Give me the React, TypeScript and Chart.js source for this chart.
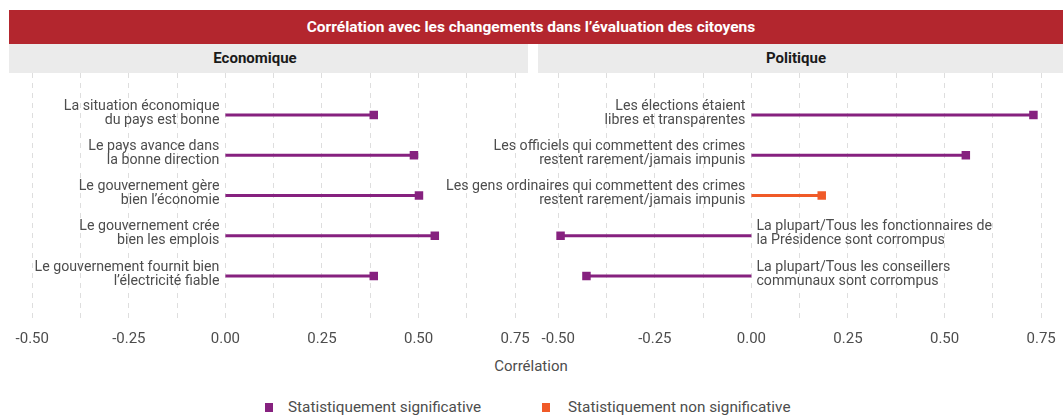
import React, { useEffect, useRef } from "react";
import { Chart, registerables } from "chart.js";

Chart.register(...registerables);

const econLabels: string[][] = [
  ["La situation économique", "du pays est bonne"],
  ["Le pays avance dans", "la bonne direction"],
  ["Le gouvernement gère", "bien l’économie"],
  ["Le gouvernement crée", "bien les emplois"],
  ["Le gouvernement fournit bien", "l’électricité fiable"],
];
const econValues: number[] = [0.384, 0.488, 0.501, 0.542, 0.384];
const econSignificant: boolean[] = [true, true, true, true, true];

const polLabels: string[][] = [
  ["Les élections étaient", "libres et transparentes"],
  ["Les officiels qui commettent des crimes", "restent rarement/jamais impunis"],
  ["Les gens ordinaires qui commettent des crimes", "restent rarement/jamais impunis"],
  ["La plupart/Tous les fonctionnaires de", "la Présidence sont corrompus"],
  ["La plupart/Tous les conseillers", "communaux sont corrompus"],
];
const polValues: number[] = [0.73, 0.555, 0.182, -0.494, -0.427];
const polSignificant: boolean[] = [true, true, false, true, true];

const xTickValues: number[] = [-0.5, -0.25, 0, 0.25, 0.5, 0.75];

const TITLE = "Corrélation avec les changements dans l’évaluation des citoyens";
const PANEL_TITLES = ["Economique", "Politique"];
const AXIS_TITLE = "Corrélation";
const LEGEND_LABELS = ["Statistiquement significative", "Statistiquement non significative"];

const PURPLE = "#86217F";
const ORANGE = "#F05A28";
const TEXT = "#4D4D4D";
const FONT = "Roboto, 'Noto Sans', sans-serif";

const AREA_W = 520;
const AREA_H = 245;
const AXIS_H = 29;

function Panel(props: { labels: string[][]; values: number[]; sig: boolean[]; areaLeft: number; padLeft: number }) {
  const ref = useRef<HTMLCanvasElement | null>(null);
  useEffect(() => {
    const { labels, values, sig } = props;
    const datasets = values.map((v, i) => {
      const c = sig[i] ? PURPLE : ORANGE;
      return {
        data: [
          { x: 0, y: i + 1 },
          { x: v, y: i + 1 },
        ],
        showLine: true,
        borderColor: c,
        backgroundColor: c,
        borderWidth: 3,
        pointRadius: [0, 6],
        pointHoverRadius: [0, 6],
        pointStyle: "rect",
        pointBorderWidth: 0,
        clip: false,
      };
    });
    const labelPlugin = {
      id: "rowLabels",
      afterDatasetsDraw(chart: any) {
        const ctx = chart.ctx;
        const xs = chart.scales.x;
        const ys = chart.scales.y;
        const x0 = xs.getPixelForValue(0);
        ctx.save();
        ctx.font = `14.2px ${FONT}`;
        ctx.fillStyle = TEXT;
        ctx.textBaseline = "middle";
        labels.forEach((lines, i) => {
          const y = ys.getPixelForValue(i + 1);
          const neg = values[i] < 0;
          ctx.textAlign = neg ? "left" : "right";
          const tx = neg ? x0 + 5 : x0 - 6;
          ctx.fillText(lines[0], tx, y - 9);
          ctx.fillText(lines[1], tx, y + 5);
        });
        ctx.restore();
      },
    };
    const chart = new Chart(ref.current as HTMLCanvasElement, {
      type: "scatter",
      data: { datasets: datasets as any },
      options: {
        animation: false,
        responsive: false,
        maintainAspectRatio: false,
        layout: { autoPadding: false, padding: { left: props.padLeft, right: 0, top: 0, bottom: 0 } },
        plugins: { legend: { display: false }, tooltip: { enabled: false } },
        scales: {
          x: {
            type: "linear",
            min: -0.555,
            max: 0.791,
            afterBuildTicks: (axis: any) => {
              const t: any[] = [];
              for (let k = -4; k <= 6; k++) t.push({ value: k * 0.125 });
              axis.ticks = t;
            },
            afterFit: (axis: any) => {
              axis.height = AXIS_H;
              axis.paddingLeft = 0;
              axis.paddingRight = 0;
            },
            ticks: {
              padding: 12,
              color: TEXT,
              font: { family: FONT, size: 15 },
              maxRotation: 0,
              autoSkip: false,
              callback: (v: any) => {
                const n = Number(v);
                return xTickValues.some((t) => Math.abs(t - n) < 1e-6) ? n.toFixed(2) : "";
              },
            },
            grid: { color: "#DEDEDE", lineWidth: 1, drawTicks: false },
            border: { display: false, dash: [5, 5] },
          },
          y: {
            type: "linear",
            reverse: true,
            min: -0.043,
            max: 6.043,
            display: false,
          },
        },
      },
      plugins: [labelPlugin],
    } as any);
    return () => chart.destroy();
  }, []);
  const w = props.padLeft + AREA_W;
  const h = AREA_H + AXIS_H;
  return (
    <canvas
      ref={ref}
      width={w}
      height={h}
      style={{ position: "absolute", left: props.areaLeft - props.padLeft, top: 73, width: w, height: h }}
    />
  );
}

export default function App() {
  return (
    <div
      style={{
        position: "absolute",
        left: 0,
        top: 0,
        width: 1063,
        height: 418,
        background: "#fff",
        fontFamily: FONT,
        overflow: "hidden",
      }}
    >
      <div
        style={{
          position: "absolute",
          left: 9,
          top: 10,
          width: 1054,
          height: 34,
          background: "#B3262E",
        }}
      />
      <div
        style={{
          position: "absolute",
          left: 181,
          top: 10,
          width: 700,
          height: 34,
          lineHeight: "34px",
          textAlign: "center",
          color: "#fff",
          fontWeight: 700,
          fontSize: 15.5,
        }}
      >
        {TITLE}
      </div>
      <div style={{ position: "absolute", left: 9, top: 44, width: 519, height: 29, background: "#EBEBEB" }} />
      <div style={{ position: "absolute", left: 538, top: 44, width: 525, height: 29, background: "#EBEBEB" }} />
      <div
        style={{
          position: "absolute",
          left: 155,
          top: 44,
          width: 200,
          height: 29,
          lineHeight: "29px",
          textAlign: "center",
          color: "#1A1A1A",
          fontWeight: 700,
          fontSize: 15,
        }}
      >
        {PANEL_TITLES[0]}
      </div>
      <div
        style={{
          position: "absolute",
          left: 696,
          top: 44,
          width: 200,
          height: 29,
          lineHeight: "29px",
          textAlign: "center",
          color: "#1A1A1A",
          fontWeight: 700,
          fontSize: 15,
        }}
      >
        {PANEL_TITLES[1]}
      </div>
      <Panel labels={econLabels} values={econValues} sig={econSignificant} areaLeft={11} padLeft={0} />
      <Panel labels={polLabels} values={polValues} sig={polSignificant} areaLeft={537} padLeft={120} />
      <div
        style={{
          position: "absolute",
          left: 431,
          top: 356,
          width: 200,
          textAlign: "center",
          color: TEXT,
          fontSize: 15,
          lineHeight: "20px",
        }}
      >
        {AXIS_TITLE}
      </div>
      <div style={{ position: "absolute", left: 265, top: 403, width: 8, height: 9, background: PURPLE }} />
      <div
        style={{ position: "absolute", left: 288, top: 397, color: TEXT, fontSize: 15.3, lineHeight: "20px", whiteSpace: "nowrap" }}
      >
        {LEGEND_LABELS[0]}
      </div>
      <div style={{ position: "absolute", left: 542, top: 403, width: 8, height: 9, background: ORANGE }} />
      <div
        style={{ position: "absolute", left: 568, top: 397, color: TEXT, fontSize: 15.3, lineHeight: "20px", whiteSpace: "nowrap" }}
      >
        {LEGEND_LABELS[1]}
      </div>
    </div>
  );
}
